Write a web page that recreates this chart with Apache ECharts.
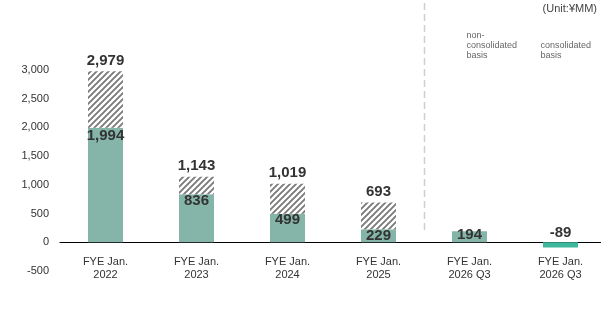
<!DOCTYPE html>
<html>
<head>
<meta charset="utf-8">
<script src="https://cdn.jsdelivr.net/npm/echarts@6/dist/echarts.min.js"></script>
<style>
  html, body { margin: 0; padding: 0; background: #fff; }
  #chart { width: 601px; height: 324px; }
</style>
</head>
<body>
<div id="chart"></div>
<script>
// Operating income by fiscal year (¥MM)
const categories = ['FYE Jan.\n2022', 'FYE Jan.\n2023', 'FYE Jan.\n2024', 'FYE Jan.\n2025', 'FYE Jan.\n2026 Q3', 'FYE Jan.\n2026 Q3'];
const baseValues = [1994, 836, 499, 229, 194, -89];
const totalValues = [2979, 1143, 1019, 693, null, null];
const yMin = -500;
const yMax = 3000;
const yStep = 500;
const unitText = '(Unit:¥MM)';
const basisNotes = ['non-\nconsolidated\nbasis', 'consolidated\nbasis'];

const FONT = '"Liberation Sans", Arial, Helvetica, sans-serif';
const GREEN = '#84b5a8';
const TEAL = '#3db89d';
const INK = '#333333';

// diagonal hatch tile for the upper stacked segment
function hatchPattern() {
  const s = 6;
  const c = document.createElement('canvas');
  c.width = s; c.height = s;
  const g = c.getContext('2d');
  g.fillStyle = '#ffffff';
  g.fillRect(0, 0, s, s);
  g.strokeStyle = '#7a7a7a';
  g.lineWidth = 1.9;
  g.beginPath();
  g.moveTo(-1, s + 1); g.lineTo(s + 1, -1);
  g.moveTo(-1, 1); g.lineTo(1, -1);
  g.moveTo(s - 1, s + 1); g.lineTo(s + 1, s - 1);
  g.stroke();
  return c;
}

const fmt = v => Number(v).toLocaleString('en-US');

const upperValues = totalValues.map((t, i) => (t == null ? null : t - baseValues[i]));

const baseData = baseValues.map((v, i) => {
  const item = { value: v };
  if (i === 5) item.itemStyle = { color: TEAL };
  if (i >= 1 && i <= 3) item.label = { offset: [0, -2] };
  else if (i === 4) item.label = { position: 'inside', offset: [0, -2] };
  else if (i === 5) item.label = { position: 'top', distance: 2 };
  return item;
});

const chart = echarts.init(document.getElementById('chart'), null, { renderer: 'canvas' });

chart.setOption({
  animation: false,
  textStyle: { fontFamily: FONT },
  grid: { left: 60, top: 70, right: -5, bottom: 53, outerBoundsMode: 'none', containLabel: false },
  xAxis: {
    type: 'category',
    data: categories,
    axisLine: { onZero: true, lineStyle: { color: '#000', width: 1.2 } },
    axisTick: { show: false },
    // labels sit just under the zero line rather than the grid floor
    axisLabel: { color: INK, fontSize: 11, lineHeight: 13, margin: -16, fontFamily: FONT, interval: 0 }
  },
  yAxis: {
    type: 'value',
    min: yMin,
    max: yMax,
    interval: yStep,
    axisLine: { show: false },
    axisTick: { show: false },
    splitLine: { show: false },
    axisLabel: { color: INK, fontSize: 11, margin: 11, fontFamily: FONT, formatter: v => fmt(v) }
  },
  series: [
    {
      type: 'bar',
      stack: 'income',
      barWidth: 35,
      data: baseData,
      itemStyle: { color: GREEN },
      label: {
        show: true,
        position: 'insideTop',
        distance: 1,
        color: INK,
        fontSize: 15,
        fontWeight: 'bold',
        fontFamily: FONT,
        formatter: p => fmt(p.value)
      }
    },
    {
      type: 'bar',
      stack: 'income',
      barWidth: 35,
      data: upperValues,
      itemStyle: { color: { image: hatchPattern(), repeat: 'repeat' } },
      label: {
        show: true,
        position: 'top',
        distance: 3,
        color: INK,
        fontSize: 15,
        fontWeight: 'bold',
        fontFamily: FONT,
        formatter: p => (totalValues[p.dataIndex] == null ? '' : fmt(totalValues[p.dataIndex]))
      }
    }
  ]
});

// divider between the historical years and the current-year columns, plus notes
const xAt = i => chart.convertToPixel({ xAxisIndex: 0 }, i);
const dividerX = Math.round((xAt(3) + xAt(4)) / 2) + 0.5;
const zeroY = chart.convertToPixel({ yAxisIndex: 0 }, 0);
const noteStyle = { fill: '#666', fontSize: 9, lineHeight: 10, fontFamily: FONT };

chart.setOption({
  graphic: [
    {
      type: 'line',
      shape: { x1: dividerX, y1: 3, x2: dividerX, y2: zeroY - 10 },
      style: { stroke: '#cfcfcf', lineWidth: 1.5, lineDash: [7, 4] },
      silent: true
    },
    {
      type: 'text',
      right: 4,
      top: 3,
      style: { text: unitText, fill: '#444', fontSize: 11, fontFamily: FONT }
    },
    {
      type: 'text',
      x: xAt(4) - 3,
      y: 31,
      style: Object.assign({ text: basisNotes[0] }, noteStyle)
    },
    {
      type: 'text',
      x: xAt(5) - 20,
      y: 41,
      style: Object.assign({ text: basisNotes[1] }, noteStyle)
    }
  ]
});
</script>
</body>
</html>
